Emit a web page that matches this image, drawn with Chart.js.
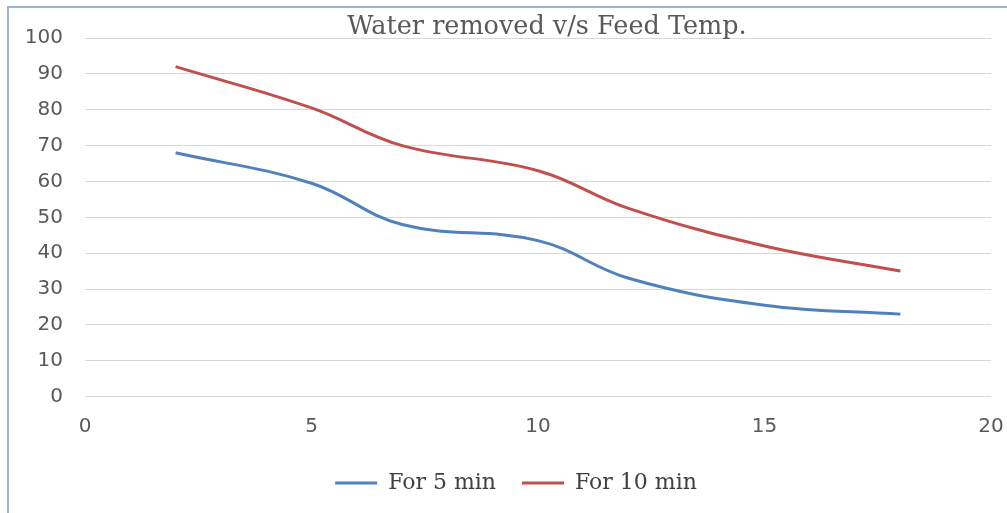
<!DOCTYPE html>
<html>
<head>
<meta charset="utf-8">
<script src="https://cdn.jsdelivr.net/npm/chart.js@4/dist/chart.umd.min.js"></script>
<style>
  html, body { margin: 0; padding: 0; background: #ffffff; }
  #wrap { position: relative; width: 1007px; height: 513px; overflow: hidden; }
  #frame { position: absolute; left: 7px; top: 6px; right: -4px; bottom: -4px;
           border-left: 2px solid #9fb3cc; border-top: 2px solid #9fb3cc; pointer-events: none; }
</style>
</head>
<body>
<div id="wrap">
  <canvas id="c" width="1007" height="513"></canvas>
  <div id="frame"></div>
</div>
<script>
// ---- data ----
const chartTitle = "Water removed v/s Feed Temp.";
const feedTemp = [2, 5, 7, 10, 12, 15, 18];
const for5min  = [68, 59.5, 48, 43.5, 33, 25.5, 23];
const for10min = [92, 80.5, 70, 63, 52.5, 42, 35];
const seriesNames = ["For 5 min", "For 10 min"];
const xTicks = [0, 5, 10, 15, 20];
const yTicks = [0, 10, 20, 30, 40, 50, 60, 70, 80, 90, 100];

const toPoints = (xs, ys) => xs.map((x, i) => ({ x: x, y: ys[i] }));

const titlePlugin = {
  id: 'customTitle',
  afterLayout(chart) {
    if (chart.legend) { chart.legend.left += 7; chart.legend.right += 7; }
  },
  afterDraw(chart) {
    const ctx = chart.ctx;
    ctx.save();
    ctx.font = '25.5px "DejaVu Serif"';
    ctx.fillStyle = '#595959';
    ctx.textAlign = 'center';
    ctx.textBaseline = 'alphabetic';
    ctx.fillText(chartTitle, 547, 34);
    ctx.restore();
  }
};

new Chart(document.getElementById('c'), {
  type: 'line',
  data: {
    datasets: [
      { label: seriesNames[0], data: toPoints(feedTemp, for5min),
        borderColor: '#4F81BD', backgroundColor: '#4F81BD', borderWidth: 3,
        pointRadius: 0, tension: 0.4, fill: false, pointStyle: 'line' },
      { label: seriesNames[1], data: toPoints(feedTemp, for10min),
        borderColor: '#C0504D', backgroundColor: '#C0504D', borderWidth: 3,
        pointRadius: 0, tension: 0.4, fill: false, pointStyle: 'line' }
    ]
  },
  options: {
    responsive: false,
    animation: false,
    devicePixelRatio: 1,
    layout: { padding: { left: 27, right: 16, top: 38, bottom: 9 } },
    plugins: {
      title: { display: false },
      tooltip: { enabled: false },
      legend: {
        position: 'bottom',
        labels: {
          usePointStyle: true,
          pointStyleWidth: 42,
          padding: 26,
          color: '#404040',
          font: { family: '"DejaVu Serif"', size: 22 }
        }
      }
    },
    scales: {
      x: {
        type: 'linear', min: 0, max: 20,
        afterBuildTicks: (s) => { s.ticks = xTicks.map(v => ({ value: v })); },
        grid: { display: false, drawTicks: false },
        border: { display: false },
        ticks: { padding: 18, color: '#595959', font: { family: '"DejaVu Sans"', size: 20 } },
        afterFit: (s) => { s.height -= 10.6; s.paddingRight = 0; s.paddingLeft = 0; }
      },
      y: {
        min: 0, max: 100,
        afterBuildTicks: (s) => { s.ticks = yTicks.map(v => ({ value: v })); },
        grid: { color: '#d9d9d9', lineWidth: 1, drawTicks: false },
        border: { display: false },
        ticks: { padding: 22, color: '#595959', font: { family: '"DejaVu Sans"', size: 20 } },
        afterFit: (s) => { s.width = 58; }
      }
    }
  },
  plugins: [titlePlugin]
});
</script>
</body>
</html>
